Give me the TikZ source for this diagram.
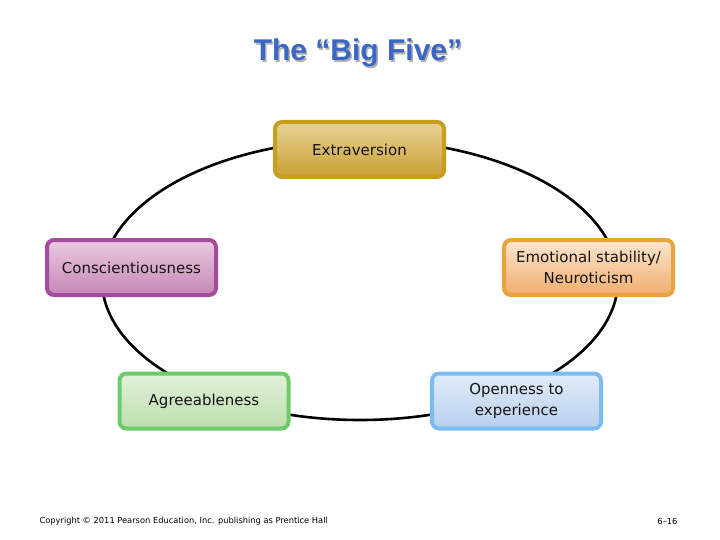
\documentclass[tikz,border=0pt]{standalone}
\usepackage{fontspec}
\setmainfont{DejaVu Sans}
\newfontfamily\titlefont{Liberation Sans}
\definecolor{titleblue}{HTML}{3A66C4}
\definecolor{exB}{HTML}{C99E1C}\definecolor{exT}{HTML}{E8D296}\definecolor{exD}{HTML}{C9A032}
\definecolor{coB}{HTML}{A54B9E}\definecolor{coT}{HTML}{EACAE1}\definecolor{coD}{HTML}{C687B6}
\definecolor{emB}{HTML}{E8A23E}\definecolor{emT}{HTML}{FCE6D0}\definecolor{emD}{HTML}{F0AE6C}
\definecolor{agB}{HTML}{6CCB6A}\definecolor{agT}{HTML}{E2F1DA}\definecolor{agD}{HTML}{BCDFAE}
\definecolor{opB}{HTML}{7DBCF0}\definecolor{opT}{HTML}{E2ECF8}\definecolor{opD}{HTML}{B7D0EE}
\tikzset{
  trait/.style={draw=#1B, top color=#1T, bottom color=#1D, line width=4pt,
    rounded corners=7pt, minimum width=169pt, minimum height=55pt,
    align=center, font=\fontsize{15}{21}\selectfont, text=black!92},
  ring/.style={line width=2.6pt, draw=black},
  footer/.style={font=\fontsize{8.3}{10}\selectfont}
}
\begin{document}
\begin{tikzpicture}[x=1pt,y=-1pt]
\fill[white] (0,0) rectangle (720,540);
\useasboundingbox (0,0) rectangle (720,540);
\node[font=\titlefont\bfseries\fontsize{30}{34}\selectfont, text=black!30] (titleshadow) at (359.5,54.5) {The “Big Five”};
\node[font=\titlefont\bfseries\fontsize{30}{34}\selectfont, text=titleblue] (title) at (358,53) {The “Big Five”};
\draw[ring] (360,280) ellipse [x radius=258, y radius=140];
\node[trait=ex] (ex) at (359.5,149.5) {Extraversion};
\node[trait=co] (co) at (131.5,267.5) {Conscientiousness};
\node[trait=em] (em) at (588.5,267.5) {Emotional stability/\\Neuroticism};
\node[trait=ag] (ag) at (204,401) {Agreeableness};
\node[trait=op] (op) at (516.5,401) {Openness to\\experience};
\node[anchor=west, footer] (copy) at (36,521) {Copyright © 2011 Pearson Education, Inc. publishing as Prentice Hall};
\node[anchor=east, footer] (page) at (681,521) {6–16};
\end{tikzpicture}
\end{document}
